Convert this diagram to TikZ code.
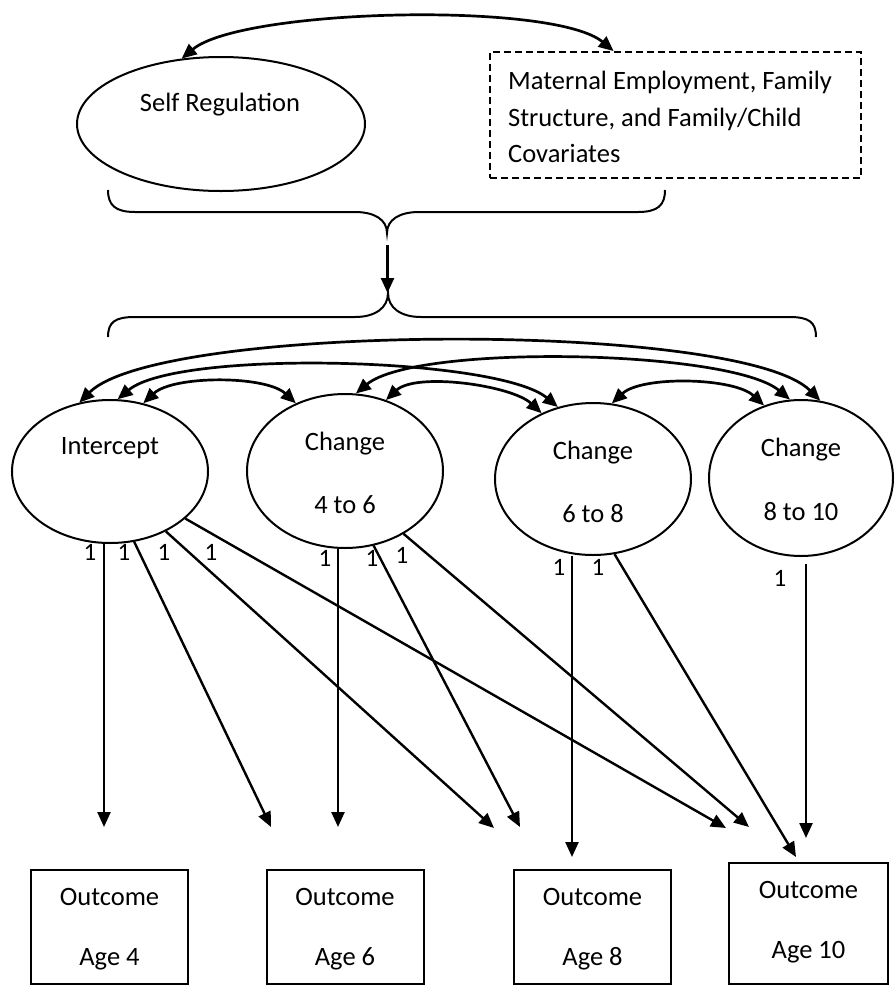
\documentclass[tikz,border=0pt]{standalone}
\usepackage{fontspec}
\setmainfont{Carlito}
\usetikzlibrary{shapes.geometric,arrows.meta,calc}
\begin{document}
\begin{tikzpicture}[x=1pt,y=-1pt,
  every node/.style={font=\fontsize{26.5}{30}\selectfont},
  latent/.style={draw,ellipse,line width=2pt,inner sep=0pt},
  obsbox/.style={draw,rectangle,line width=2pt,minimum width=157pt,minimum height=114pt,inner sep=0pt},
  arr/.style={-{Triangle[length=15pt,width=13pt]}},
  bidir/.style={{Triangle[length=15pt,width=13pt]}-{Triangle[length=15pt,width=13pt]},line width=2.7pt},
  loadarrow/.style={arr,line width=2.4pt},
  onelab/.style={inner sep=0pt,font=\fontsize{25}{25}\selectfont},
  txt/.style={inner sep=0pt}
]
\useasboundingbox (0,0) rectangle (895,986);

% latent variables
\node[latent,minimum width=288pt,minimum height=134pt] (sr) at (221,124) {};
\node[latent,minimum width=196pt,minimum height=143pt] (int) at (110,471.5) {};
\node[latent,minimum width=196pt,minimum height=154pt] (c46) at (345,471) {};
\node[latent,minimum width=196pt,minimum height=152pt] (c68) at (593,479) {};
\node[latent,minimum width=184pt,minimum height=156pt] (c810) at (801,478) {};

\node[txt] (srt) at (220,105) {Self Regulation};
\node[txt] (intt) at (110,448) {Intercept};
\node[txt] (c46a) at (345,444) {Change};
\node[txt] (c46b) at (345,505) {4 to 6};
\node[txt] (c68a) at (593,453) {Change};
\node[txt] (c68b) at (593,514) {6 to 8};
\node[txt] (c810a) at (801,450) {Change};
\node[txt] (c810b) at (801,512) {8 to 10};

% covariates box
\node[draw,dashed,dash pattern=on 7pt off 4pt,line width=1.8pt,minimum width=371pt,minimum height=126pt,inner sep=0pt] (cov) at (675.5,115) {};
\node[txt,anchor=west,align=left,font=\fontsize{26.5}{36.5}\selectfont] (covt) at (508,117) {Maternal Employment, Family\\Structure, and Family/Child\\Covariates};

\coordinate (covtop) at ($(cov.north west)!0.334!(cov.north east)$);
\draw[bidir] (sr.121) .. controls +(60,-50) and +(-60,-50) .. (covtop);

% braces
\draw[line width=2pt] (108,190) .. controls (108,205) and (115,212) .. (135,212) -- (355,212)
  .. controls (375,212) and (387,220) .. (387,233)
  .. controls (387,220) and (399,212) .. (419,212) -- (638,212)
  .. controls (658,212) and (665,205) .. (665,190);
\draw[line width=2pt] (108,337) .. controls (108,322) and (115,317) .. (135,317) -- (355,317)
  .. controls (375,317) and (388,308) .. (388,293)
  .. controls (388,308) and (401,317) .. (421,317) -- (789,317)
  .. controls (809,317) and (816,322) .. (816,337);
\coordinate (bu) at (387.5,245);
\coordinate (bl) at (387.5,293);
\draw[loadarrow] (bu) -- (bl);

% covariances among growth factors
\draw[bidir] (int.114) .. controls +(80,-80) and +(-80,-80) .. (c810.76);
\draw[bidir] (int.84) .. controls +(60,-50) and +(-60,-50) .. (c68.116);
\draw[bidir] (c46.82) .. controls +(60,-50) and +(-60,-50) .. (c810.98);
\draw[bidir] (int.64) .. controls +(30,-28) and +(-30,-28) .. (c46.126.5);
\draw[bidir] (c46.60.5) .. controls +(30,-28) and +(-30,-28) .. (c68.128);
\draw[bidir] (c68.76) .. controls +(30,-28) and +(-30,-28) .. (c810.117);

% loading end points
\coordinate (e4a) at (104,827);
\coordinate (e6a) at (271,827);
\coordinate (e8a) at (494,828);
\coordinate (e10a) at (726,828);
\coordinate (e6b) at (338,827);
\coordinate (e8b) at (520,827);
\coordinate (e10b) at (749,827);
\coordinate (e8c) at (572,857);
\coordinate (e10c) at (796,857);
\coordinate (e10d) at (806,838);

% loadings
\draw[loadarrow] (e4a |- int.south) -- (e4a);
\draw[loadarrow] (int.289) -- (e6a);
\draw[loadarrow] (int.313) -- (e8a);
\draw[loadarrow] (int.328) -- (e10a);
\draw[loadarrow] (e6b |- c46.south) -- (e6b);
\draw[loadarrow] (c46.291) -- (e8b);
\draw[loadarrow] (c46.313.6) -- (e10b);
\draw[loadarrow] (e8c |- c68.south) -- (e8c);
\draw[loadarrow] (c68.286) -- (e10c);
\draw[loadarrow,shorten <=7pt] (e10d |- c810.south) -- (e10d);

% loading labels
\node[onelab] (l1) at (90,552) {1};
\node[onelab] (l2) at (124,552) {1};
\node[onelab] (l3) at (164,552) {1};
\node[onelab] (l4) at (211,552) {1};
\node[onelab] (l5) at (325,558) {1};
\node[onelab] (l6) at (372,558) {1};
\node[onelab] (l7) at (402,555) {1};
\node[onelab] (l8) at (559,567) {1};
\node[onelab] (l9) at (598,567) {1};
\node[onelab] (l10) at (780,578) {1};

% outcomes
\node[obsbox] (o4) at (109.5,927) {};
\node[obsbox] (o6) at (345,927) {};
\node[obsbox] (o8) at (592.5,927) {};
\node[obsbox,minimum width=159pt,minimum height=121pt] (o10) at (808.5,923.5) {};
\node[txt] (o4a) at (109.5,897) {Outcome};
\node[txt] (o4b) at (109.5,959) {Age 4};
\node[txt] (o6a) at (345,897) {Outcome};
\node[txt] (o6b) at (345,959) {Age 6};
\node[txt] (o8a) at (592.5,897) {Outcome};
\node[txt] (o8b) at (592.5,959) {Age 8};
\node[txt] (o10a) at (808.5,890) {Outcome};
\node[txt] (o10b) at (808.5,952) {Age 10};
\end{tikzpicture}
\end{document}
